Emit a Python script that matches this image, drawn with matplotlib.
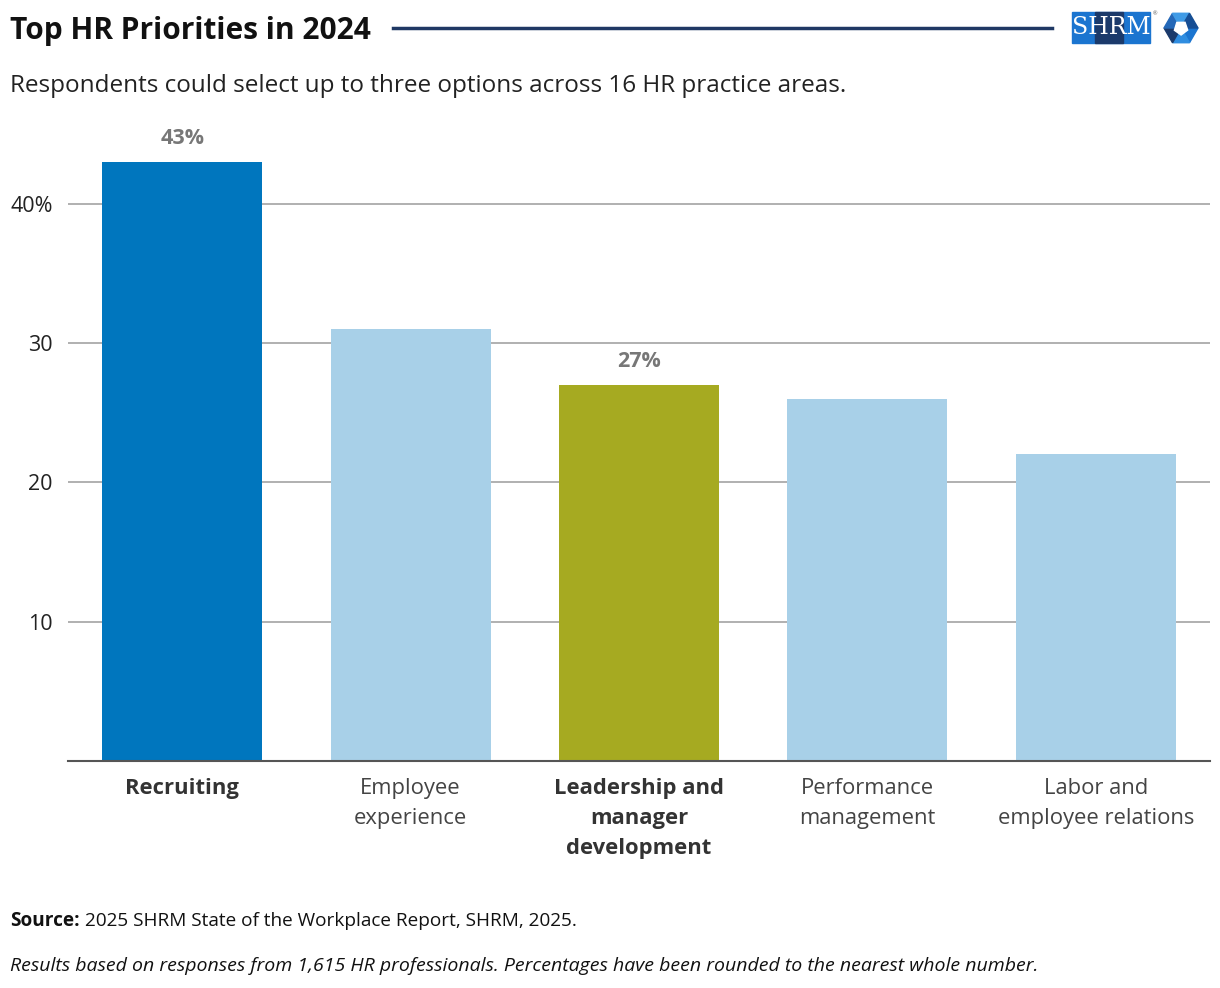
import numpy as np
import matplotlib.pyplot as plt
from matplotlib.patches import Rectangle, Polygon

plt.rcParams['font.family'] = ['Open Sans', 'DejaVu Sans']

categories = ["Recruiting", "Employee\nexperience", "Leadership and\nmanager\ndevelopment",
              "Performance\nmanagement", "Labor and\nemployee relations"]
values = [43, 31, 27, 26, 22]
highlight = [True, False, True, False, False]
colors = ["#0076BE", "#A8D0E8", "#A6AA21", "#A8D0E8", "#A8D0E8"]
yticks = [10, 20, 30, 40]
ytick_labels = ["10", "20", "30", "40%"]

W, H = 1220, 988
fig = plt.figure(figsize=(W / 100, H / 100), dpi=100)
ax = fig.add_axes([68 / W, 1 - 761 / H, (1210 - 68) / W, (761 - 120) / H])

x = np.arange(len(values))
ax.bar(x, values, width=0.7, color=colors, zorder=2)
ax.set_xlim(-0.5, len(values) - 0.5)
ax.set_ylim(0, 46)

ax.set_yticks(yticks)
ax.set_yticklabels(ytick_labels, fontsize=15.5, color="#222222")
ax.tick_params(axis="y", length=0, pad=11)
ax.yaxis.grid(True, color="#AAAAAA", lw=1.3, zorder=1)
for s in ["top", "right", "left"]:
    ax.spines[s].set_visible(False)
ax.spines["bottom"].set_color("#555555")
ax.spines["bottom"].set_linewidth(1.5)

ax.set_xticks(x)
ax.set_xticklabels([])
ax.tick_params(axis="x", length=0)
for i, lab in enumerate(categories):
    ax.text(x[i], -1.2, lab, ha="center", va="top", fontsize=15.8,
            fontweight="bold" if highlight[i] else "normal",
            color="#333333" if highlight[i] else "#444444",
            linespacing=1.56)
    if highlight[i]:
        ax.text(x[i], values[i] + 0.9, f"{values[i]}%", ha="center", va="bottom",
                fontsize=15.5, fontweight="bold", color="#777777")

# title, rule and subtitle
fig.text(10 / W, 1 - 31 / H, "Top HR Priorities in 2024", fontsize=21.5, fontweight="bold",
         color="#111111", va="center", ha="left")
fig.add_artist(plt.Line2D([393 / W, 1052 / W], [1 - 28 / H, 1 - 28 / H], color="#1F3864", lw=2.5))
fig.text(10 / W, 1 - 86 / H, "Respondents could select up to three options across 16 HR practice areas.",
         fontsize=17.5, color="#222222", va="center", ha="left")

# logo
def px(xp, yp):
    return (xp / W, 1 - yp / H)

fig.add_artist(Rectangle(px(1072, 43), 78 / W, 31 / H, color="#1B75D0", transform=fig.transFigure))
fig.add_artist(Rectangle(px(1095, 43), 28 / W, 31 / H, color="#1B3A6B", transform=fig.transFigure))
fig.text(1111 / W, 1 - 28 / H, "SHRM", fontsize=17, color="white", family="DejaVu Serif",
         ha="center", va="center")
fig.text(1153 / W, 1 - 14 / H, "®", fontsize=4, color="#555555", ha="left", va="center")
cx, cy, r = 1181, 28, 17
ang = np.deg2rad(np.arange(0, 360, 60))
hexpts = [px(cx + r * np.cos(a), cy + r * np.sin(a)) for a in ang]
shades = ["#1B75D0", "#2F8DE0", "#1B3A6B", "#2468B8", "#3F9BE6", "#164E94"]
for k in range(6):
    p0 = px(cx, cy)
    tri = [p0, hexpts[k], hexpts[(k + 1) % 6]]
    fig.add_artist(Polygon(tri, closed=True, color=shades[k], transform=fig.transFigure))
inner = [px(cx + 7 * np.cos(a + 0.3), cy + 7 * np.sin(a + 0.3)) for a in np.deg2rad(np.arange(0, 360, 72))]
fig.add_artist(Polygon(inner, closed=True, color="white", transform=fig.transFigure))

# footer
src = fig.text(10 / W, 1 - 921 / H, "Source:", fontsize=13.7, fontweight="bold", color="#111111", va="center")
fig.canvas.draw()
bb = src.get_window_extent()
fig.text((bb.x1 + 5) / W, 1 - 921 / H, "2025 SHRM State of the Workplace Report, SHRM, 2025.",
         fontsize=13.7, color="#111111", va="center")
fig.text(10 / W, 1 - 966 / H, "Results based on responses from 1,615 HR professionals. "
         "Percentages have been rounded to the nearest whole number.",
         fontsize=14, style="italic", color="#111111", va="center")

fig.savefig("out.png", dpi=100)
plt.close()
